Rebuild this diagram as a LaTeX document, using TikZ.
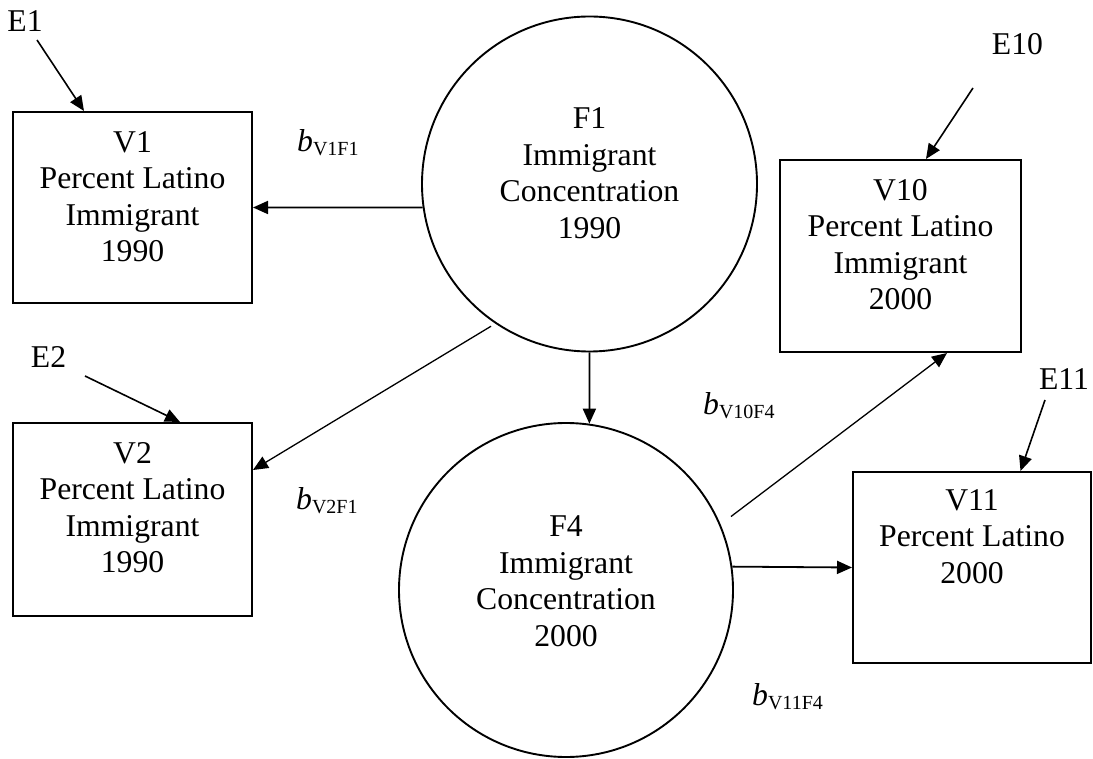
\documentclass[tikz,border=0pt]{standalone}
\usepackage{fontspec}
\setmainfont{Liberation Serif}
\usetikzlibrary{arrows.meta}
\newcommand\bsub[1]{{\itshape b}\raisebox{-4pt}{\fontsize{20}{20}\selectfont #1}}
\begin{document}
\begin{tikzpicture}[x=1pt,y=-1pt,
  every node/.style={font=\fontsize{31.7}{36.5}\selectfont},
  box/.style={draw, line width=2pt, inner sep=0},
  latent/.style={draw, circle, line width=1.9pt, inner sep=0},
  txt/.style={align=center, inner sep=0},
  arr/.style={line width=1.8pt, -{Triangle[length=15pt,width=13pt]}},
  thinarr/.style={line width=1.3pt, -{Triangle[length=15pt,width=13pt]}},
  lbl/.style={inner sep=0, anchor=base},
  coef/.style={inner sep=0, anchor=base west}
]
\useasboundingbox (0,0) rectangle (1093,759);

% observed variables
\node[box, minimum width=239pt, minimum height=191pt] (V1) at (132.5,207.5) {};
\node[box, minimum width=239pt, minimum height=193pt] (V2) at (132.5,519.5) {};
\node[box, minimum width=241pt, minimum height=192pt] (V10) at (900.5,256) {};
\node[box, minimum width=238pt, minimum height=191pt] (V11) at (972,567.5) {};

\node[txt, anchor=north] (V1t) at ([yshift=-20pt]V1.north) {V1\\Percent Latino\\Immigrant\\1990};
\node[txt, anchor=north] (V2t) at ([yshift=-20pt]V2.north) {V2\\Percent Latino\\Immigrant\\1990};
\node[txt, anchor=north] (V10t) at ([yshift=-20pt]V10.north) {V10\\Percent Latino\\Immigrant\\2000};
\node[txt, anchor=north] (V11t) at ([yshift=-18pt]V11.north) {V11\\Percent Latino\\2000};

% latent factors
\node[latent, minimum size=335pt] (F1) at (589.5,184) {};
\node[latent, minimum size=334pt] (F4) at (566,590) {};
\node[txt] (F1t) at ([yshift=11pt]F1.center) {F1\\Immigrant\\Concentration\\1990};
\node[txt] (F4t) at ([yshift=9pt]F4.center) {F4\\Immigrant\\Concentration\\2000};

% structural paths
\draw[arr] (F1.188) -- (V1.east);
\draw[thinarr, shorten <=5pt] (F1.236) -- ([yshift=49.5pt]V2.east);
\draw[arr] (F1.south) -- (F4.82);
\draw[thinarr, shorten <=13pt] (F4.23) -- ([xshift=46.5pt]V10.south);
\draw[arr] (F4.8) -- (V11.west);

% error terms
\node[lbl] (E1) at (25,32) {E1};
\node[lbl] (E2) at (48.5,368) {E2};
\node[lbl] (E10) at (1017.5,55) {E10};
\node[lbl] (E11) at (1064,390) {E11};
\coordinate (E1s) at (37,40);
\coordinate (E2s) at (85,376);
\coordinate (E10s) at (973,88);
\coordinate (E11s) at (1045,400);
\draw[arr, line width=1.6pt] (E1s) -- ([xshift=-48.5pt]V1.north);
\draw[arr, line width=1.6pt] (E2s) -- ([xshift=47.5pt]V2.north);
\draw[arr, line width=1.6pt] (E10s) -- ([xshift=25.5pt]V10.north);
\draw[arr, line width=1.6pt] (E11s) -- ([xshift=48.5pt]V11.north);

% coefficients
\node[coef] (b1) at (297,152) {\bsub{V1F1}};
\node[coef] (b2) at (296,509) {\bsub{V2F1}};
\node[coef] (b10) at (703,414) {\bsub{V10F4}};
\node[coef] (b11) at (752,705) {\bsub{V11F4}};
\end{tikzpicture}
\end{document}
